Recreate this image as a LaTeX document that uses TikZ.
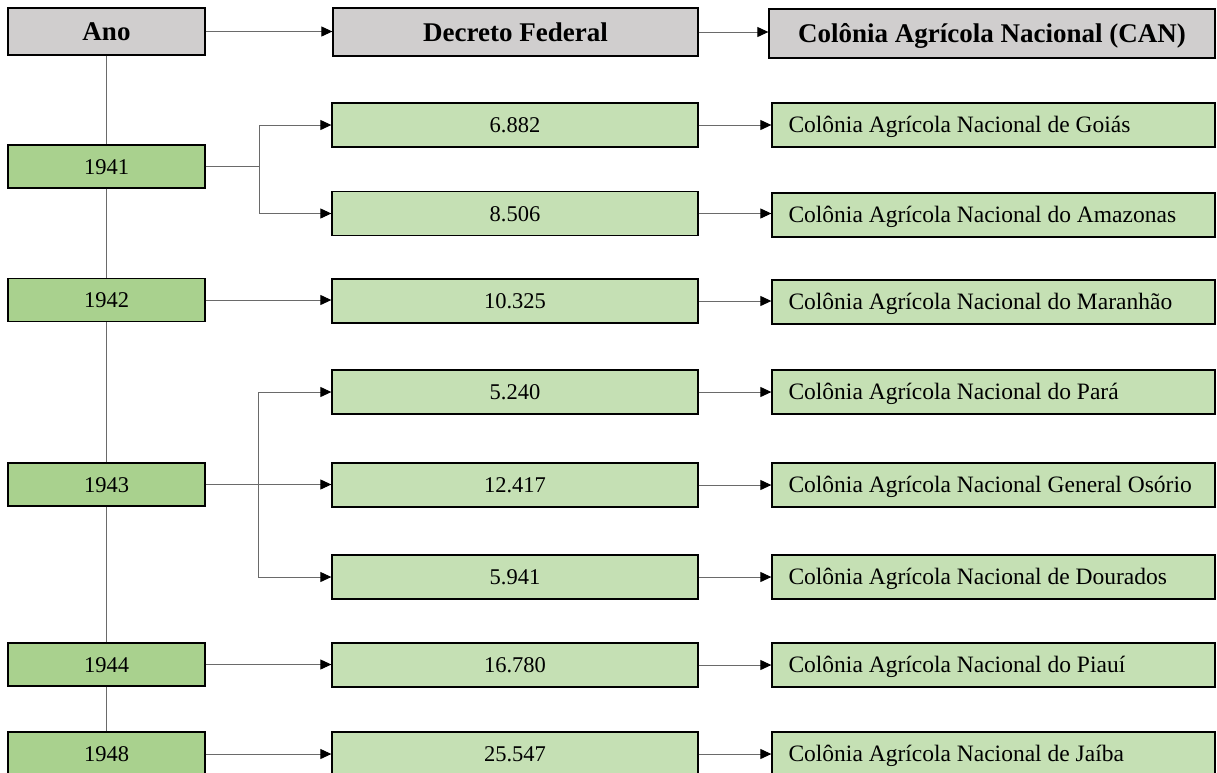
\documentclass[tikz,border=0pt]{standalone}
\usepackage{fontspec}
\setmainfont{Liberation Serif}
\usetikzlibrary{arrows.meta}
\definecolor{hdr}{HTML}{D0CECE}
\definecolor{yr}{HTML}{A9D18E}
\definecolor{lg}{HTML}{C5E0B4}
\definecolor{ln}{HTML}{6A6A6A}
\newcommand\lefttxt[1]{\makebox[410pt][l]{#1}}
\begin{document}
\begin{tikzpicture}[x=1pt,y=-1pt,
 box/.style={draw=black, line width=1.3pt, rectangle, inner sep=0pt, anchor=center},
 hbox/.style={box, fill=hdr, text height=22pt, text depth=4pt, font=\fontsize{27}{30}\selectfont\bfseries},
 ybox/.style={box, fill=yr, minimum width=197pt, minimum height=43pt, text height=19pt, text depth=4pt, font=\fontsize{22.5}{26}\selectfont},
 dbox/.style={box, fill=lg, minimum width=366pt, minimum height=44pt, text height=19pt, text depth=4pt, font=\fontsize{22.5}{26}\selectfont},
 cbox/.style={box, fill=lg, minimum width=443pt, minimum height=44pt, inner xsep=16pt, text height=20pt, text depth=4.5pt, font=\fontsize{23.5}{27}\selectfont},
 conn/.style={draw=ln, line width=1pt},
 arr/.style={conn, -{Triangle[length=11pt,width=10pt,color=black]}}]
\useasboundingbox (0,0) rectangle (1217,772);
% headers
\node[hbox, minimum width=197pt, minimum height=47pt] (ano) at (106.5,31.5) {Ano};
\node[hbox, minimum width=365pt, minimum height=48pt] (dec) at (515.5,32) {Decreto Federal};
\node[hbox, minimum width=446pt, minimum height=49pt] (can) at (992,33.5) {Colônia Agrícola Nacional (CAN)};
% years
\node[ybox] (y41) at (106.5,166.5) {1941};
\node[ybox] (y42) at (106.5,300) {1942};
\node[ybox] (y43) at (106.5,484.5) {1943};
\node[ybox] (y44) at (106.5,664.5) {1944};
\node[ybox, minimum height=44pt] (y48) at (106.5,754) {1948};
% decrees
\node[dbox] (d1) at (515,125) {6.882};
\node[dbox] (d2) at (515,213.5) {8.506};
\node[dbox] (d3) at (515,301) {10.325};
\node[dbox] (d4) at (515,392) {5.240};
\node[dbox] (d5) at (515,485) {12.417};
\node[dbox] (d6) at (515,577) {5.941};
\node[dbox] (d7) at (515,665) {16.780};
\node[dbox] (d8) at (515,754) {25.547};
% colonies
\node[cbox] (c1) at (993.5,125) {\lefttxt{Colônia Agrícola Nacional de Goiás}};
\node[cbox] (c2) at (993.5,215) {\lefttxt{Colônia Agrícola Nacional do Amazonas}};
\node[cbox] (c3) at (993.5,302) {\lefttxt{Colônia Agrícola Nacional do Maranhão}};
\node[cbox] (c4) at (993.5,392) {\lefttxt{Colônia Agrícola Nacional do Pará}};
\node[cbox] (c5) at (993.5,485) {\lefttxt{Colônia Agrícola Nacional General Osório}};
\node[cbox] (c6) at (993.5,577) {\lefttxt{Colônia Agrícola Nacional de Dourados}};
\node[cbox] (c7) at (993.5,665) {\lefttxt{Colônia Agrícola Nacional do Piauí}};
\node[cbox] (c8) at (993.5,754) {\lefttxt{Colônia Agrícola Nacional de Jaíba}};
% header arrows
\draw[arr] (ano.east) -- (ano.east -| dec.west);
\draw[arr] (dec.east) -- (dec.east -| can.west);
% timeline
\draw[conn] (ano.south) -- (y41.north);
\draw[conn] (y41.south) -- (y42.north);
\draw[conn] (y42.south) -- (y43.north);
\draw[conn] (y43.south) -- (y44.north);
\draw[conn] (y44.south) -- (y48.north);
% 1941 branch
\coordinate (b1) at (259,166.5);
\draw[conn] (y41.east) -- (b1);
\draw[arr] (b1) |- (d1.west);
\draw[arr] (b1) |- (d2.west);
% 1942
\draw[arr] (y42.east) -- (y42.east -| d3.west);
% 1943 branch
\coordinate (b3) at (258,484.5);
\draw[arr] (y43.east) -- (y43.east -| d5.west);
\draw[arr] (b3) |- (d4.west);
\draw[arr] (b3) |- (d6.west);
% 1944, 1948
\draw[arr] (y44.east) -- (y44.east -| d7.west);
\draw[arr] (y48.east) -- (y48.east -| d8.west);
% decree to colony
\foreach \i in {1,...,8} {\draw[arr] (d\i.east) -- (d\i.east -| c\i.west);}
\end{tikzpicture}
\end{document}
